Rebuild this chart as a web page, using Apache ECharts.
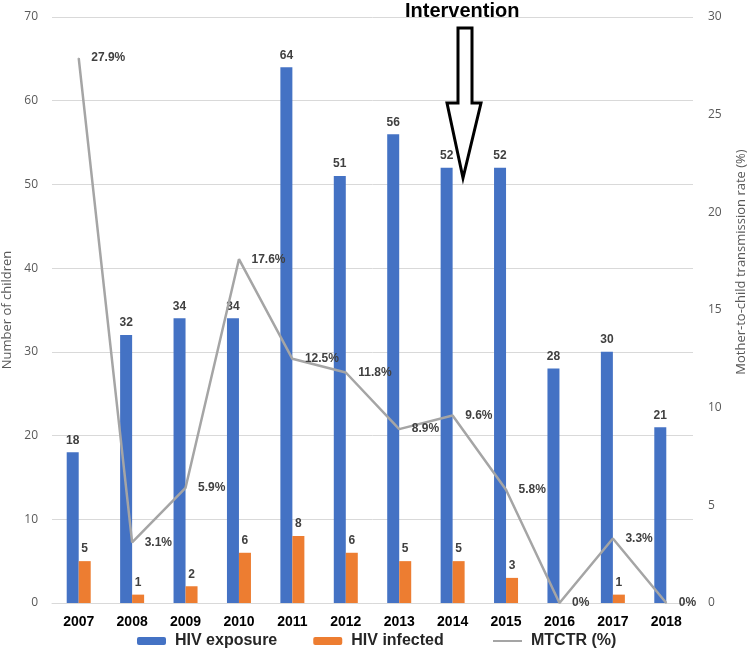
<!DOCTYPE html>
<html>
<head>
<meta charset="utf-8">
<script src="https://cdn.jsdelivr.net/npm/echarts@6/dist/echarts.min.js"></script>
<style>
  html, body { margin: 0; padding: 0; background: #ffffff; }
  #chart { width: 750px; height: 662px; }
</style>
</head>
<body>
<div id="chart"></div>
<script>
var years = ["2007", "2008", "2009", "2010", "2011", "2012", "2013", "2014", "2015", "2016", "2017", "2018"];
var hivExposure = [18, 32, 34, 34, 64, 51, 56, 52, 52, 28, 30, 21];
var hivInfected = [5, 1, 2, 6, 8, 6, 5, 5, 3, 0, 1, 0];
var mtctr = [27.9, 3.1, 5.9, 17.6, 12.5, 11.8, 8.9, 9.6, 5.8, 0, 3.3, 0];

var chart = echarts.init(document.getElementById("chart"));
var labelFont = "'Liberation Sans Narrow', 'Liberation Sans', Arial, sans-serif";
var sansFont = "'Liberation Sans', Arial, sans-serif";
var axisFont = "'Open Sans', 'Noto Sans', sans-serif";

var legendText = { fontSize: 16, fontWeight: "bold", color: "#262626", fontFamily: sansFont, padding: [0, 0, 0, 4] };

var option = {
  backgroundColor: "#ffffff",
  animation: false,
  grid: { left: 52, right: 57, top: 17, bottom: 59, outerBoundsMode: "none", containLabel: false },
  legend: [
    {
      bottom: 8,
      left: 132,
      itemGap: 36,
      itemWidth: 29,
      itemHeight: 8,
      textStyle: legendText,
      data: ["HIV exposure", "HIV infected"]
    },
    {
      bottom: 8,
      left: 487,
      itemWidth: 29,
      itemHeight: 8,
      textStyle: legendText,
      data: [{ name: "MTCTR (%)", itemStyle: { color: "rgba(0,0,0,0)", opacity: 0 } }]
    }
  ],
  xAxis: {
    type: "category",
    data: years,
    axisLine: { lineStyle: { color: "#d9d9d9", width: 1 } },
    axisTick: { show: false },
    axisLabel: { color: "#000000", fontSize: 14, fontWeight: "bold", margin: 12, fontFamily: sansFont }
  },
  yAxis: [
    {
      type: "value",
      min: 0, max: 70, interval: 10,
      name: "Number of children",
      nameLocation: "middle",
      nameGap: 38,
      nameTextStyle: { color: "#595959", fontSize: 13, fontFamily: axisFont },
      axisLine: { show: false },
      axisTick: { show: false },
      axisLabel: { color: "#595959", fontSize: 12, margin: 14, fontFamily: axisFont },
      splitLine: { lineStyle: { color: "#d9d9d9", width: 1 } }
    },
    {
      type: "value",
      min: 0, max: 30, interval: 5,
      name: "Mother-to-child transmission rate (%)",
      nameLocation: "middle",
      nameGap: 42,
      nameTextStyle: { color: "#595959", fontSize: 13, padding: [0, 0, 0, 96], fontFamily: axisFont },
      axisLine: { show: false },
      axisTick: { show: false },
      axisLabel: { color: "#595959", fontSize: 12, margin: 15, fontFamily: axisFont },
      splitLine: { show: false }
    }
  ],
  series: [
    {
      name: "HIV exposure",
      type: "bar",
      data: hivExposure,
      barWidth: 12,
      barGap: "0%",
      itemStyle: { color: "#4472c4" },
      label: { show: true, position: "top", distance: 6, color: "#404040", fontSize: 12, fontWeight: "bold", fontFamily: labelFont }
    },
    {
      name: "HIV infected",
      type: "bar",
      data: hivInfected,
      barWidth: 12,
      barGap: "0%",
      itemStyle: { color: "#ed7d31" },
      label: {
        show: true, position: "top", distance: 6, color: "#404040", fontSize: 12, fontWeight: "bold", fontFamily: labelFont,
        formatter: function (p) { return p.value === 0 ? "" : String(p.value); }
      }
    },
    {
      name: "MTCTR (%)",
      type: "line",
      yAxisIndex: 1,
      data: mtctr,
      symbol: "circle",
      symbolSize: 1,
      showSymbol: true,
      lineStyle: { color: "#a5a5a5", width: 2.5 },
      itemStyle: { color: "#a5a5a5" },
      label: {
        show: true, position: "right", distance: 12,
        formatter: "{c}%",
        color: "#404040", fontSize: 12, fontWeight: "bold", fontFamily: labelFont
      },
      z: 3
    }
  ],
  graphic: [
    {
      type: "text",
      left: 405,
      top: 1,
      style: { text: "Intervention", fill: "#000000", font: "bold 20px 'Liberation Sans', Arial, sans-serif" },
      z: 10
    },
    {
      type: "polygon",
      shape: { points: [[458, 28], [472, 28], [472, 103], [481, 103], [463, 178], [447, 103], [458, 103]] },
      style: { fill: "#ffffff", stroke: "#000000", lineWidth: 3 },
      z: 10
    }
  ]
};
chart.setOption(option);
</script>
</body>
</html>
